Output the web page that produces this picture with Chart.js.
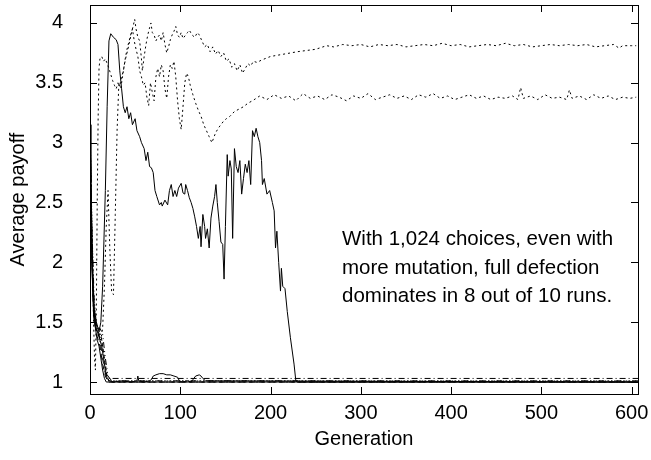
<!DOCTYPE html>
<html>
<head>
<meta charset="utf-8">
<script src="https://cdn.jsdelivr.net/npm/chart.js@4.4.1/dist/chart.umd.min.js"></script>
<style>
  html, body { margin: 0; padding: 0; background: #fff; }
  #wrap { width: 651px; height: 460px; }
</style>
</head>
<body>
<div id="wrap"><canvas id="chart" width="651" height="460"></canvas></div>
<script>
// ---- data ----
const xTicks = [0, 100, 200, 300, 400, 500, 600];
const yTicks = [1, 1.5, 2, 2.5, 3, 3.5, 4];
const noteLines = [
    "With 1,024 choices, even with",
    "more mutation, full defection",
    "dominates in 8 out of 10 runs."
];

// run that climbs high and then collapses (solid)
const genA = [0, 2, 4, 7, 10, 12, 14, 17, 19, 21, 23, 26, 29, 31, 33, 35, 37, 39, 41, 43, 45, 47, 50, 52, 55, 57, 60, 62, 64, 66, 68, 70,
    72, 74, 77, 79, 80, 83, 86, 88, 90, 92, 94, 96, 98, 101, 103, 105, 106, 108, 110, 112, 114, 116, 118, 120, 122, 123, 125, 127,
    128, 130, 132, 134, 136, 138, 139.5, 141, 143, 145, 147, 148.5, 150, 152, 153, 155, 156.5, 158, 160, 162, 164, 166, 168, 170,
    172, 174, 176, 178, 180, 182, 184, 186, 188, 190, 191, 193, 196, 199, 202, 204, 205.5, 207, 209, 211, 212, 213.5, 216, 218.5,
    222, 226, 228, 230, 607];
const payA = [3.15, 2.0, 1.6, 1.5, 1.42, 1.5, 1.8, 2.6, 3.3, 3.85, 3.91, 3.88, 3.86, 3.82, 3.6, 3.45, 3.3, 3.25, 3.3, 3.2, 3.25, 3.15, 3.2, 3.1, 3.05, 3.0, 2.95, 2.85, 2.92, 2.8, 2.79, 2.75,
    2.6, 2.55, 2.48, 2.5, 2.47, 2.52, 2.48, 2.6, 2.65, 2.55, 2.6, 2.55, 2.62, 2.66, 2.58, 2.57, 2.65, 2.6, 2.54, 2.5, 2.45, 2.38, 2.3, 2.2, 2.3, 2.13, 2.4, 2.3,
    2.2, 2.28, 2.12, 2.37, 2.47, 2.55, 2.65, 2.5, 2.34, 2.17, 2.15, 1.86, 2.3, 2.9, 2.72, 2.85, 2.78, 2.2, 2.95, 2.8, 2.75, 2.85, 2.57, 2.7,
    2.82, 2.75, 2.85, 2.65, 3.1, 3.05, 3.12, 3.05, 3.0, 2.85, 2.65, 2.7, 2.57, 2.6, 2.5, 2.43, 2.12, 2.26, 2.0, 1.76, 1.95, 1.8, 1.78, 1.59,
    1.37, 1.15, 1.01, 1.0, 1.0];

// cooperating run that settles near 3.8 (dotted)
const genU = [0, 2, 4, 6, 8, 10, 12, 14, 16, 18, 20, 22, 24, 26, 28, 30, 32, 34, 36, 38, 40, 42, 44, 46, 48, 49.5, 51, 53, 55, 57, 58, 60, 62, 64,
    66, 67.5, 69, 71, 73, 75, 77, 79, 81, 83, 85, 87, 89, 91, 93, 95, 97, 99, 101, 103, 106, 108, 110, 113, 116, 119, 121, 124, 127, 130,
    133, 136, 139, 142, 145, 148, 151, 154, 157, 160, 163, 166, 169, 172, 175, 178, 181, 185, 190, 200, 215, 230, 250, 262, 270, 280,
    290, 300, 310, 320, 330, 340, 350, 360, 370, 380, 390, 400, 410, 420, 430, 440, 450, 460, 470, 480, 490, 500, 510, 520, 530, 540,
    550, 560, 570, 580, 586, 590, 600, 605];
const payU = [3.15, 2.3, 1.7, 1.5, 1.42, 1.38, 1.35, 1.45, 1.8, 2.3, 2.6, 2.1, 1.75, 1.73, 2.4, 3.1, 3.5, 3.45, 3.55, 3.65, 3.72, 3.78, 3.85, 3.92, 3.98, 4.03, 3.95, 3.88, 3.85, 3.7, 3.6, 3.72, 3.82, 3.9,
    3.96, 4.0, 3.92, 3.9, 3.85, 3.88, 3.9, 3.85, 3.92, 3.82, 3.75, 3.8, 3.86, 3.9, 3.93, 3.97, 3.9, 3.88, 3.92, 3.87, 3.9, 3.92, 3.94, 3.9, 3.88, 3.92, 3.9, 3.85, 3.8, 3.82,
    3.76, 3.8, 3.74, 3.77, 3.72, 3.75, 3.68, 3.7, 3.63, 3.66, 3.6, 3.65, 3.58, 3.62, 3.66, 3.64, 3.68, 3.67, 3.69, 3.72, 3.74, 3.76, 3.78, 3.81, 3.8, 3.82,
    3.81, 3.82, 3.8, 3.82, 3.81, 3.82, 3.8, 3.81, 3.82, 3.81, 3.83, 3.81, 3.82, 3.8, 3.81, 3.82, 3.81, 3.83, 3.81, 3.82, 3.8, 3.81, 3.82, 3.81, 3.82, 3.81,
    3.82, 3.8, 3.81, 3.82, 3.79, 3.81, 3.81, 3.81];

// cooperating run that settles near 3.38 (dotted)
const genL = [0, 2, 4, 5, 6, 7, 8, 9, 10, 11, 13, 15, 17, 19, 21, 23, 25, 27, 29, 31, 33, 35, 37, 39, 41, 43, 45, 47, 49, 51, 53, 55, 57, 59,
    61, 63, 65, 67, 69, 71, 73, 75, 77, 79, 81, 83, 85, 87, 89, 91, 93, 95, 97, 99, 101, 103, 105, 107, 109, 111, 114, 117, 120, 123,
    126, 129, 132, 135, 137, 139, 142, 145, 148, 151, 155, 160, 165, 170, 175, 180, 188, 196, 204, 212, 220, 228, 236, 244, 252, 260,
    268, 276, 284, 292, 300, 308, 316, 324, 332, 340, 348, 356, 364, 372, 380, 388, 396, 404, 412, 420, 428, 436, 444, 452, 460, 468,
    474, 477, 480, 488, 496, 504, 512, 520, 528, 531, 534, 542, 550, 558, 566, 574, 582, 590, 598, 605];
const payL = [3.15, 2.2, 1.5, 1.2, 1.1, 1.6, 2.5, 3.2, 3.62, 3.7, 3.72, 3.68, 3.7, 3.66, 3.62, 3.57, 3.52, 3.48, 3.45, 3.5, 3.48, 3.55, 3.6, 3.7, 3.78, 3.84, 3.9, 3.95, 3.85, 3.78, 3.72, 3.6, 3.55, 3.48,
    3.5, 3.38, 3.31, 3.5, 3.42, 3.35, 3.55, 3.62, 3.55, 3.65, 3.6, 3.45, 3.37, 3.55, 3.65, 3.62, 3.68, 3.55, 3.35, 3.2, 3.11, 3.3, 3.5, 3.58, 3.55, 3.48, 3.4, 3.33, 3.27, 3.22,
    3.15, 3.1, 3.05, 3.0, 3.04, 3.08, 3.12, 3.15, 3.18, 3.2, 3.22, 3.26, 3.28, 3.3, 3.33, 3.35, 3.39, 3.36, 3.4, 3.37, 3.39, 3.35, 3.41, 3.37, 3.39, 3.36,
    3.4, 3.38, 3.35, 3.39, 3.37, 3.41, 3.36, 3.38, 3.4, 3.37, 3.39, 3.36, 3.4, 3.38, 3.41, 3.37, 3.39, 3.36, 3.38, 3.4, 3.37, 3.39, 3.36, 3.38, 3.37, 3.39,
    3.36, 3.46, 3.37, 3.39, 3.36, 3.4, 3.37, 3.38, 3.36, 3.44, 3.37, 3.39, 3.36, 3.4, 3.37, 3.39, 3.36, 3.38, 3.37, 3.38];

// runs that fall straight to full defection
const genB1 = [0, 1, 3, 5, 7, 9, 11, 13, 15, 17, 19, 22, 26, 35, 45, 52, 53, 54, 60, 66, 68, 70, 73, 77, 81, 85, 89, 93, 97, 99, 102, 108, 112, 114, 117, 121, 123, 125, 128, 607];
const payB1 = [3.15, 2.7, 1.9, 1.55, 1.45, 1.4, 1.35, 1.3, 1.2, 1.1, 1.03, 1.01, 1.0, 1.01, 1.0, 1.01, 1.05, 1.01, 1.0, 1.01, 1.02, 1.05, 1.06, 1.07, 1.07, 1.06, 1.06, 1.05, 1.04, 1.01, 1.0, 1.01, 1.0, 1.02, 1.05, 1.06, 1.05, 1.03, 1.01, 1.0];
const genB2 = [0, 2, 4, 6, 8, 10, 12, 14, 16, 18, 21, 25, 607];
const payB2 = [3.15, 2.1, 1.6, 1.5, 1.45, 1.4, 1.3, 1.2, 1.1, 1.05, 1.03, 1.03, 1.03];
const genB3 = [0, 2, 4, 7, 10, 13, 16, 19, 23, 607];
const payB3 = [3.15, 2.4, 1.75, 1.5, 1.42, 1.35, 1.2, 1.06, 1.01, 1.01];
const genB4 = [0, 1, 3, 5, 8, 11, 14, 17, 20, 607];
const payB4 = [3.15, 2.5, 1.8, 1.5, 1.38, 1.3, 1.15, 1.05, 1.0, 1.0];
const genB5 = [0, 2, 4, 6, 9, 12, 15, 18, 21, 607];
const payB5 = [3.15, 2.2, 1.6, 1.45, 1.4, 1.4, 1.25, 1.08, 1.0, 1.0];
const genB6 = [0, 2, 4, 6, 8, 10, 12, 14, 16, 18, 607];
const payB6 = [3.15, 2.0, 1.55, 1.45, 1.35, 1.3, 1.2, 1.1, 1.03, 1.0, 1.0];
const genB7 = [0, 2, 5, 8, 11, 14, 17, 20, 24, 607];
const payB7 = [3.15, 2.3, 1.6, 1.45, 1.45, 1.4, 1.2, 1.05, 1.01, 1.01];

const FONT = "'Liberation Sans', Arial, Helvetica, sans-serif";

function toPoints(xs, ys) {
    return xs.map(function (x, i) { return { x: x, y: ys[i] }; });
}

function run(xs, ys, dash) {
    return {
        data: toPoints(xs, ys),
        borderColor: "#000",
        borderWidth: 1,
        borderDash: dash,
        pointRadius: 0,
        tension: 0,
        fill: false
    };
}

// no extra room round the plot for the tick labels
function noLabelPadding(scale) {
    scale.paddingTop = 0;
    scale.paddingBottom = 0;
    scale.paddingLeft = 0;
    scale.paddingRight = 0;
}

// box round the plot with inward ticks on every side, plus the note
const framePlugin = {
    id: "frame",
    afterDatasetsDraw(chart) {
        const ctx = chart.ctx;
        const a = chart.chartArea;
        const xs = chart.scales.x;
        const ys = chart.scales.y;
        const len = 7;
        ctx.save();
        ctx.strokeStyle = "#000";
        ctx.lineWidth = 1;
        ctx.beginPath();
        xTicks.forEach(function (v) {
            const px = Math.round(xs.getPixelForValue(v)) + 0.5;
            ctx.moveTo(px, a.bottom);
            ctx.lineTo(px, a.bottom - len);
            ctx.moveTo(px, a.top);
            ctx.lineTo(px, a.top + len);
        });
        yTicks.forEach(function (v) {
            const py = Math.round(ys.getPixelForValue(v)) + 0.5;
            ctx.moveTo(a.left, py);
            ctx.lineTo(a.left + len, py);
            ctx.moveTo(a.right, py);
            ctx.lineTo(a.right - len, py);
        });
        ctx.stroke();
        ctx.strokeRect(Math.round(a.left) + 0.5, Math.round(a.top) + 0.5,
            Math.round(a.right - a.left), Math.round(a.bottom - a.top));

        ctx.fillStyle = "#000";
        ctx.font = "20.5px " + FONT;
        ctx.textAlign = "left";
        ctx.textBaseline = "alphabetic";
        noteLines.forEach(function (line, i) {
            ctx.fillText(line, 342, 245 + i * 28.5);
        });
        ctx.restore();
    }
};

window.addEventListener("DOMContentLoaded", function () {
    const ctx = document.getElementById("chart").getContext("2d");
    new Chart(ctx, {
        type: "line",
        data: {
            datasets: [
                run(genB7, payB7, [6, 3, 1, 3, 1, 3]),
                run(genB6, payB6, []),
                run(genB5, payB5, [3, 3]),
                run(genB4, payB4, [6, 4]),
                run(genB3, payB3, [1, 2]),
                run(genB2, payB2, [6, 3, 1, 3]),
                run(genB1, payB1, []),
                run(genL, payL, [2, 3]),
                run(genU, payU, [2, 3]),
                run(genA, payA, [])
            ]
        },
        options: {
            responsive: false,
            animation: false,
            devicePixelRatio: 1,
            layout: { padding: { left: 0, right: 13, top: 5, bottom: 0 } },
            plugins: {
                legend: { display: false },
                tooltip: { enabled: false }
            },
            scales: {
                x: {
                    type: "linear",
                    min: 0,
                    max: 607,
                    grid: { display: false, drawTicks: false },
                    border: { display: false },
                    afterBuildTicks: function (scale) {
                        scale.ticks = xTicks.map(function (v) { return { value: v }; });
                    },
                    afterFit: function (scale) {
                        scale.height = 66;
                        noLabelPadding(scale);
                    },
                    ticks: {
                        color: "#000",
                        padding: 7,
                        maxRotation: 0,
                        font: { family: FONT, size: 20 }
                    },
                    title: {
                        display: true,
                        text: "Generation",
                        color: "#000",
                        padding: { top: 0, bottom: 9 },
                        font: { family: FONT, size: 20 }
                    }
                },
                y: {
                    type: "linear",
                    min: 0.9,
                    max: 4.15,
                    grid: { display: false, drawTicks: false },
                    border: { display: false },
                    afterBuildTicks: function (scale) {
                        scale.ticks = yTicks.map(function (v) { return { value: v }; });
                    },
                    afterFit: function (scale) {
                        scale.width = 90;
                        noLabelPadding(scale);
                    },
                    ticks: {
                        color: "#000",
                        padding: 27,
                        font: { family: FONT, size: 20 },
                        callback: function (v) { return String(v); }
                    },
                    title: {
                        display: true,
                        text: "Average payoff",
                        color: "#000",
                        padding: { top: 6, bottom: 0 },
                        font: { family: FONT, size: 20 }
                    }
                }
            }
        },
        plugins: [framePlugin]
    });
});
</script>
</body>
</html>
